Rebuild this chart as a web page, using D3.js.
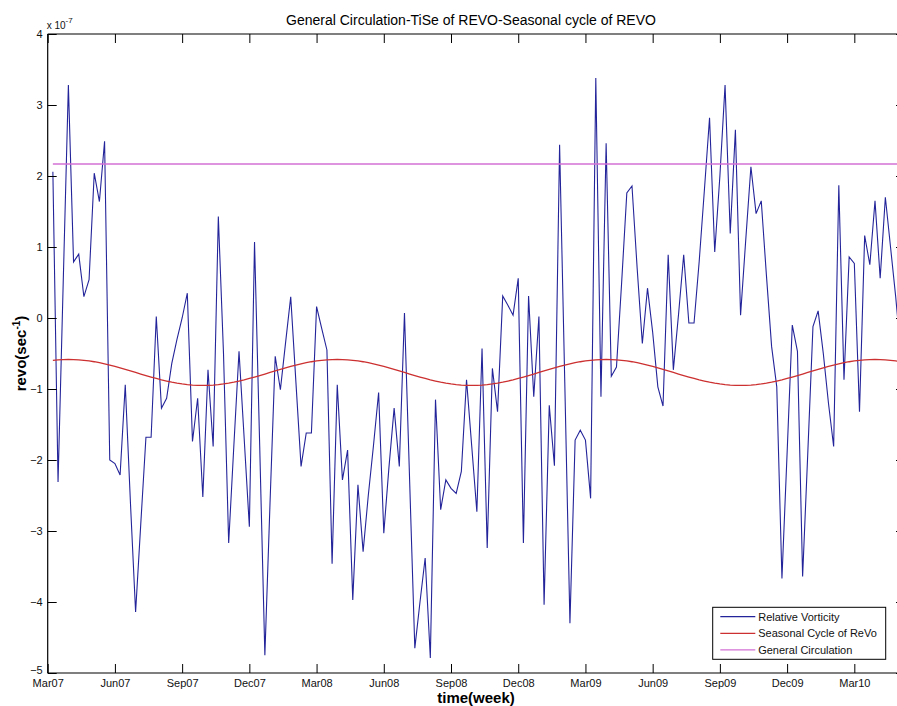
<!DOCTYPE html>
<html>
<head>
<meta charset="utf-8">
<script src="https://cdn.jsdelivr.net/npm/d3@7"></script>
<style>
  body { margin: 0; background: #fff; }
  svg { display: block; }
  text { font-family: "Liberation Sans", Arial, sans-serif; }
</style>
</head>
<body>
<svg id="chart" width="897" height="706"></svg>
<script>
// Quarterly tick labels along the weekly time axis
const tickLabels = ["Mar07", "Jun07", "Sep07", "Dec07", "Mar08", "Jun08", "Sep08",
                    "Dec08", "Mar09", "Jun09", "Sep09", "Dec09", "Mar10"];
// Week index of each tick (13 weeks per quarter)
const tickWeeks = [-1, 12, 25, 38, 51, 64, 77, 90, 103, 116, 129, 142, 155];

// Weekly relative vorticity, units of 1e-7 s^-1
const vorticity = [
   2.06, -2.31,  0.50,  3.28,  0.79,  0.90,  0.30,  0.54,  2.04,  1.64,
   2.49, -2.00, -2.05, -2.21, -0.94, -2.60, -4.14, -2.90, -1.68, -1.68,
   0.02, -1.27, -1.13, -0.64, -0.30,  0.00,  0.35, -1.74, -1.13, -2.52,
  -0.73, -1.81,  1.43, -0.50, -3.17, -1.80, -0.47, -1.70, -2.94,  1.07,
  -1.80, -4.75, -2.60, -0.54, -1.01, -0.35,  0.30, -0.90, -2.09, -1.62,
  -1.62,  0.16, -0.15, -0.45, -3.46, -0.94, -2.28, -1.86, -3.97, -2.35,
  -3.29, -2.50, -1.80, -1.05, -3.03, -2.10, -1.27, -2.09,  0.07, -2.30,
  -4.65, -4.00, -3.38, -4.79, -1.15, -2.70, -2.28, -2.40, -2.47, -2.16,
  -0.87, -1.80, -2.73, -0.43, -3.24, -0.71, -1.32,  0.31,  0.18,  0.04,
   0.56, -3.17,  0.31, -1.11,  0.02, -4.04, -1.23, -2.08,  2.44, -0.90,
  -4.30, -1.72, -1.58, -1.72, -2.54,  3.38, -1.11,  2.46, -0.82, -0.69,
   0.50,  1.76,  1.86,  0.70, -0.36,  0.42, -0.20, -0.97, -1.24,  0.89,
  -0.73,  0.05,  0.89, -0.07, -0.07,  0.80,  1.80,  2.82,  0.93,  2.00,
   3.28,  1.19,  2.65,  0.04,  1.10,  2.13,  1.47,  1.65,  0.60, -0.40,
  -0.97, -3.67, -1.90, -0.10, -0.47, -3.64, -1.90, -0.12,  0.10, -0.50,
  -1.20, -1.81,  1.87, -0.87,  0.86,  0.77, -1.32,  1.16,  0.75,  1.65,
   0.56,  1.70,  1.00,  0.30, -0.50
];

// Seasonal cycle of relative vorticity, one value per week of the year
const seasonalCycle = [
  -0.596, -0.589, -0.585, -0.584, -0.585, -0.589, -0.596, -0.605, -0.616, -0.630,
  -0.646, -0.663, -0.682, -0.702, -0.723, -0.745, -0.767, -0.789, -0.811, -0.832,
  -0.852, -0.871, -0.888, -0.904, -0.918, -0.929, -0.938, -0.945, -0.949, -0.950,
  -0.949, -0.945, -0.938, -0.929, -0.918, -0.904, -0.888, -0.871, -0.852, -0.832,
  -0.811, -0.789, -0.767, -0.745, -0.723, -0.702, -0.682, -0.663, -0.646, -0.630,
  -0.616, -0.605
];

// Long-term mean (general circulation)
const generalCirculation = 2.17;

const yTicks = [4, 3, 2, 1, 0, -1, -2, -3, -4, -5];
const legendLabels = ["Relative Vorticity", "Seasonal Cycle of ReVo", "General Circulation"];
const seriesColors = ["#24249a", "#cc3030", "#d470d6"];

const svg = d3.select("#chart");
const plotLeft = 47.7, plotRight = 905, plotTop = 34, plotBottom = 673;

const x = d3.scaleLinear().domain([-1, 164.8]).range([plotLeft, plotRight]);
const y = d3.scaleLinear().domain([-5, 4]).range([plotBottom, plotTop]);

const weeks = d3.range(vorticity.length);
const seasonal = weeks.map(i => seasonalCycle[i % seasonalCycle.length]);
const general = weeks.map(() => generalCirculation);

svg.append("defs").append("clipPath").attr("id", "plotClip")
  .append("rect").attr("x", plotLeft).attr("y", plotTop)
  .attr("width", plotRight - plotLeft).attr("height", plotBottom - plotTop);

const plot = svg.append("g").attr("clip-path", "url(#plotClip)");
const line = d3.line().x((d, i) => x(i)).y(d => y(d));

plot.append("path").datum(vorticity).attr("d", line)
  .attr("fill", "none").attr("stroke", seriesColors[0]).attr("stroke-width", 1.1);
plot.append("path").datum(seasonal).attr("d", line)
  .attr("fill", "none").attr("stroke", seriesColors[1]).attr("stroke-width", 1.3);
plot.append("path").datum(general).attr("d", line)
  .attr("fill", "none").attr("stroke", seriesColors[2]).attr("stroke-width", 1.6);

// Axes: box with inward ticks
const tickLen = 9;
const fmtWeek = (d, i) => tickLabels[i];

const xBottom = svg.append("g").attr("transform", `translate(0,${plotBottom})`)
  .call(d3.axisBottom(x).tickValues(tickWeeks).tickFormat(fmtWeek).tickSize(-tickLen).tickPadding(6));
const xTop = svg.append("g").attr("transform", `translate(0,${plotTop})`)
  .call(d3.axisTop(x).tickValues(tickWeeks).tickFormat("").tickSize(-tickLen));
const yLeft = svg.append("g").attr("transform", `translate(${plotLeft},0)`)
  .call(d3.axisLeft(y).tickValues(yTicks).tickFormat(d3.format("d")).tickSize(-tickLen).tickPadding(5));
const yRight = svg.append("g").attr("transform", `translate(${plotRight},0)`)
  .call(d3.axisRight(y).tickValues(yTicks).tickFormat("").tickSize(-tickLen));

[xBottom, xTop, yLeft, yRight].forEach(g => {
  g.select(".domain").attr("stroke", "#000").attr("stroke-width", 1.2);
  g.selectAll(".tick line").attr("stroke", "#000");
  g.selectAll(".tick text").attr("fill", "#111").style("font-size", "11px")
    .style("font-family", "'Liberation Sans', Arial, sans-serif");
});
xBottom.selectAll(".domain").attr("d", `M${plotLeft},0H${plotRight}`);
xTop.selectAll(".domain").attr("d", `M${plotLeft},0H${plotRight}`);
yLeft.selectAll(".domain").attr("d", `M0,${plotTop}V${plotBottom}`);
// lowest y label sits a little higher so it clears the first date label
yLeft.selectAll(".tick text").filter(d => d === -5).attr("dy", "0.05em");

// Exponent marker above the y axis
const expo = svg.append("text").attr("x", plotLeft - 1).attr("y", 29)
  .style("font-size", "10px").attr("fill", "#111");
expo.append("tspan").text("x 10");
expo.append("tspan").attr("dy", -6).style("font-size", "8px").text("-7");

// Title and axis labels
svg.append("text").attr("x", 471).attr("y", 25).attr("text-anchor", "middle")
  .style("font-size", "14px").attr("fill", "#000")
  .text("General Circulation-TiSe of REVO-Seasonal cycle of REVO");

svg.append("text").attr("x", 476).attr("y", 703).attr("text-anchor", "middle")
  .style("font-size", "15px").style("font-weight", "bold").attr("fill", "#000")
  .text("time(week)");

const ylab = svg.append("text")
  .attr("transform", `translate(26,${(plotTop + plotBottom) / 2}) rotate(-90)`)
  .attr("text-anchor", "middle").style("font-size", "15px").style("font-weight", "bold").attr("fill", "#000");
ylab.append("tspan").text("revo(sec");
ylab.append("tspan").attr("dy", -6).style("font-size", "10px").text("-1");
ylab.append("tspan").attr("dy", 6).text(")");

// Legend
const lg = svg.append("g").attr("transform", "translate(712.7,607.3)");
lg.append("rect").attr("width", 173).attr("height", 52)
  .attr("fill", "#fff").attr("stroke", "#000").attr("stroke-width", 1);
legendLabels.forEach((label, i) => {
  const row = lg.append("g").attr("transform", `translate(0,${9.4 + i * 16.6})`);
  row.append("line").attr("x1", 7.6).attr("x2", 42.6).attr("y1", 0).attr("y2", 0)
    .attr("stroke", seriesColors[i]).attr("stroke-width", 1.3);
  row.append("text").attr("x", 45.5).attr("y", 4).style("font-size", "11px")
    .attr("fill", "#111").text(label);
});
</script>
</body>
</html>
